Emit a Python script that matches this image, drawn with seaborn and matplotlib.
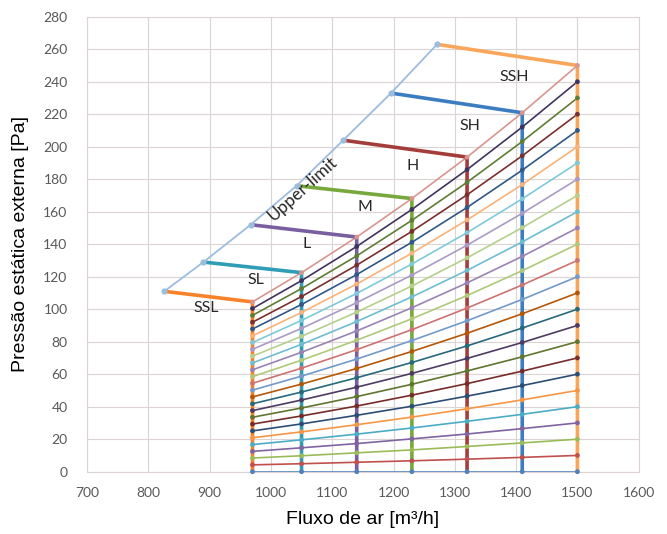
import pandas as pd
import seaborn as sns
import matplotlib.pyplot as plt

# %% Dados
vazoes = [970, 1050, 1140, 1230, 1320, 1410, 1500]

# pressão de cada curva do sistema (0 a 250 Pa em 1500 m³/h) em cada vazão
p_970 = [0, 4.2, 8.4, 12.5, 16.7, 20.9, 25.1, 29.3, 33.5, 37.6, 41.8, 46.0, 50.2,
         54.4, 58.5, 62.7, 66.9, 71.1, 75.3, 79.5, 83.6, 87.8, 92.0, 96.2, 100.4, 104.5]
p_1050 = [0, 4.9, 9.8, 14.7, 19.6, 24.5, 29.4, 34.3, 39.2, 44.1, 49.0, 53.9, 58.8,
          63.7, 68.6, 73.5, 78.4, 83.3, 88.2, 93.1, 98.0, 102.9, 107.8, 112.7, 117.6, 122.5]
p_1140 = [0, 5.8, 11.6, 17.3, 23.1, 28.9, 34.7, 40.4, 46.2, 52.0, 57.8, 63.5, 69.3,
          75.1, 80.9, 86.6, 92.4, 98.2, 104.0, 109.7, 115.5, 121.3, 127.1, 132.8, 138.6, 144.4]
p_1230 = [0, 6.7, 13.4, 20.2, 26.9, 33.6, 40.3, 47.1, 53.8, 60.5, 67.2, 74.0, 80.7,
          87.4, 94.1, 100.9, 107.6, 114.3, 121.0, 127.8, 134.5, 141.2, 147.9, 154.7, 161.4, 168.1]
p_1320 = [0, 7.7, 15.5, 23.2, 31.0, 38.7, 46.5, 54.2, 62.0, 69.7, 77.4, 85.2, 92.9,
          100.7, 108.4, 116.2, 123.9, 131.6, 139.4, 147.1, 154.9, 162.6, 170.4, 178.1, 185.9, 193.6]
p_1410 = [0, 8.8, 17.7, 26.5, 35.3, 44.2, 53.0, 61.9, 70.7, 79.5, 88.4, 97.2, 106.0,
          114.9, 123.7, 132.5, 141.4, 150.2, 159.0, 167.9, 176.7, 185.6, 194.4, 203.2, 212.1, 220.9]
p_1500 = [0, 10, 20, 30, 40, 50, 60, 70, 80, 90, 100, 110, 120,
          130, 140, 150, 160, 170, 180, 190, 200, 210, 220, 230, 240, 250]

# velocidades do ventilador
velocidades = ['SSL', 'SL', 'L', 'M', 'H', 'SH', 'SSH']
limite_x = [826, 890, 967, 1042, 1118, 1196, 1271]
limite_y = [111, 129, 152, 176, 204, 233, 263]
vel_vazao = [970, 1050, 1140, 1230, 1320, 1410, 1500]
vel_topo = [104.5, 122.5, 144.4, 168.1, 193.6, 220.9, 250]

# %% Cores (paleta do Excel)
cores_curvas = ['#4F81BD', '#C0504D', '#9BBB59', '#8064A2', '#4BACC6', '#F79646',
                '#2C4D75', '#772C2A', '#5F7530', '#4D3B62', '#276A7C', '#B65708',
                '#729ACA', '#CD7371', '#AFC97A', '#9983B5', '#6FBDD1', '#B4D08C',
                '#A99BC5', '#7ECADB', '#F9B27A', '#2F5889', '#7A2F2D', '#5F7D34',
                '#3F3460', '#D9958F']
cores_vel = ['#F6822A', '#2E9DB5', '#7A5FA0', '#77A83C', '#A33D3A', '#3B7DC0', '#F9A65A']
cor_limite = '#9DBDDF'
cor_grade = '#DCD4D2'

# %% Montando as tabelas
colunas = [p_970, p_1050, p_1140, p_1230, p_1320, p_1410, p_1500]
linhas = []
for i in range(len(p_1500)):
    for j, q in enumerate(vazoes):
        linhas.append({'curva': f'c{i}', 'vazao': q, 'pressao': colunas[j][i]})
df_curvas = pd.DataFrame(linhas)

linhas = []
for k, nome in enumerate(velocidades):
    linhas.append({'vel': nome, 'vazao': limite_x[k], 'pressao': limite_y[k]})
    linhas.append({'vel': nome, 'vazao': vel_vazao[k], 'pressao': vel_topo[k]})
    linhas.append({'vel': nome, 'vazao': vel_vazao[k], 'pressao': 0})
df_vel = pd.DataFrame(linhas)

# %% Gráfico
sns.set_style('whitegrid', {'grid.color': cor_grade, 'axes.edgecolor': cor_grade})
plt.rcParams['font.family'] = ['Liberation Sans', 'DejaVu Sans']

fig = plt.figure(figsize=(6.67, 5.34), dpi=100)
ax = fig.add_axes([0.1304, 0.1167, 0.8272, 0.852])

sns.lineplot(data=df_curvas, x='vazao', y='pressao', hue='curva', palette=cores_curvas,
             estimator=None, sort=False, linewidth=1.2, legend=False, ax=ax, zorder=2, clip_on=False)
sns.lineplot(data=df_vel, x='vazao', y='pressao', hue='vel', palette=cores_vel,
             estimator=None, sort=False, linewidth=2.6, legend=False, ax=ax, zorder=3, clip_on=False)
sns.scatterplot(data=df_curvas, x='vazao', y='pressao', hue='curva', palette=cores_curvas,
                s=12, linewidth=0, legend=False, ax=ax, zorder=4, clip_on=False)
sns.lineplot(x=limite_x, y=limite_y, color=cor_limite, marker='o', markersize=4.5,
             markeredgewidth=0, linewidth=1.3, sort=False, ax=ax, zorder=5)

ax.set_xlim(700, 1600)
ax.set_ylim(0, 280)
ax.set_xticks(range(700, 1601, 100))
ax.set_yticks(range(0, 281, 20))
ax.tick_params(axis='both', labelsize=10, colors='#595959', length=0)
ax.tick_params(axis='y', pad=14)
ax.tick_params(axis='x', pad=11)
for lab in ax.get_xticklabels() + ax.get_yticklabels():
    lab.set_family(['Lato', 'DejaVu Sans'])
for sp in ax.spines.values():
    sp.set_color(cor_grade)
    sp.set_linewidth(0.8)

ax.set_xlabel('Fluxo de ar [m³/h]', fontsize=14, color='black')
ax.set_ylabel('Pressão estática externa [Pa]', fontsize=14, color='black')
ax.xaxis.set_label_coords(0.5, -0.086)
ax.yaxis.set_label_coords(-0.105, 0.5)

# rótulos das velocidades
rotulos_x = [895, 975, 1059, 1153, 1232, 1325, 1397]
rotulos_y = [100.5, 118, 140, 163, 188, 213, 243]
for nome, rx, ry in zip(velocidades, rotulos_x, rotulos_y):
    ax.text(rx, ry, nome, fontsize=11.5, ha='center', va='center', family=['Lato', 'DejaVu Sans'], zorder=6)
ax.text(1052, 174, 'Upper-limit', fontsize=12.5, ha='center', va='center', rotation=42,
        family=['Lato', 'DejaVu Sans'], zorder=6)

plt.savefig('out.png', dpi=100)
